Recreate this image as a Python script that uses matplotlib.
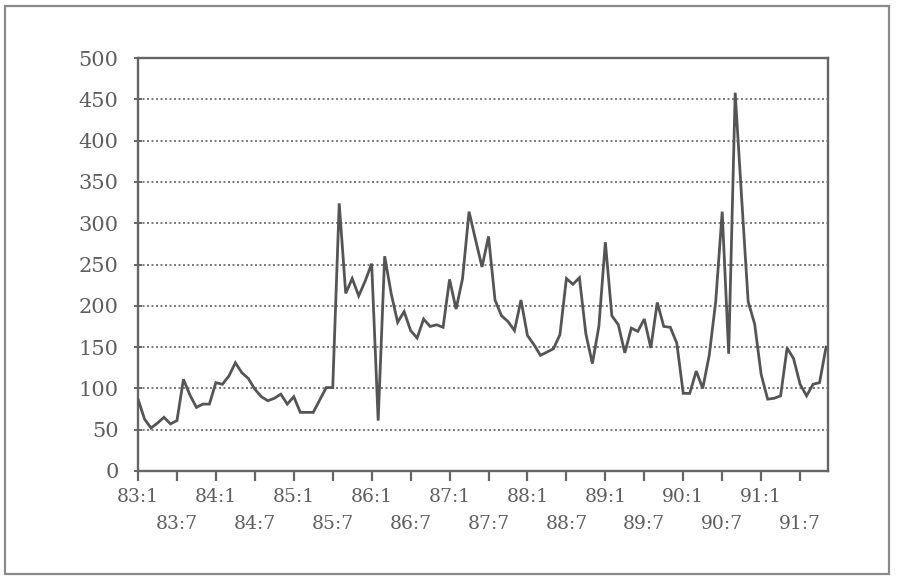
import matplotlib
matplotlib.use("Agg")
import matplotlib.pyplot as plt
from matplotlib.patches import Rectangle
import numpy as np

# Monthly series, 83:1 through 91:11
values = [
    87, 63, 52, 58, 65, 57, 61, 111, 92, 77, 81, 81,
    107, 105, 115, 131, 119, 112, 99, 90, 85, 88, 93, 81,
    90, 71, 71, 71, 86, 101, 101, 324, 215, 233, 212, 230,
    251, 61, 260, 215, 180, 193, 170, 161, 184, 175, 177, 174,
    232, 196, 233, 314, 280, 247, 284, 207, 188, 181, 170, 207,
    164, 153, 140, 144, 148, 165, 233, 226, 234, 166, 130, 175,
    277, 188, 177, 143, 173, 169, 184, 149, 204, 175, 174, 155,
    94, 94, 121, 100, 140, 205, 314, 142, 458, 330, 205, 178,
    117, 87, 88, 91, 149, 136, 105, 91, 105, 107, 150,
]
tick_labels = ["83:1", "83:7", "84:1", "84:7", "85:1", "85:7", "86:1", "86:7",
               "87:1", "87:7", "88:1", "88:7", "89:1", "89:7", "90:1", "90:7",
               "91:1", "91:7"]
y_ticks = [0, 50, 100, 150, 200, 250, 300, 350, 400, 450, 500]

W, H = 897, 580
fig = plt.figure(figsize=(W / 100, H / 100), dpi=100)
fig.patch.set_facecolor("white")

# outer frame around the whole chart
fig.patches.append(Rectangle((5 / W, 6 / H), (889 - 5) / W, (574 - 6) / H,
                             transform=fig.transFigure, fill=False,
                             edgecolor="#8a8a8a", linewidth=1.6))

ax = fig.add_axes([138 / W, (H - 471) / H, (828 - 138) / W, (471 - 58) / H])
x = np.arange(len(values))
ax.plot(x, values, color="#555555", linewidth=2.0, solid_joinstyle="miter", zorder=3)

ax.set_xlim(0, 106.3)
ax.set_ylim(0, 500)

# horizontal dotted grid
for v in y_ticks[1:-1]:
    ax.axhline(v, color="#666666", linewidth=1.2, linestyle=(0, (1.2, 1.5)), zorder=1)

ax.set_yticks(y_ticks)
ax.set_yticklabels([str(v) for v in y_ticks])
xt = list(range(0, 6 * len(tick_labels), 6))
ax.set_xticks(xt)
ax.set_xticklabels([lab if i % 2 == 0 else "\n" + lab for i, lab in enumerate(tick_labels)],
                   linespacing=1.65)

serif = ["DejaVu Serif"]
for lab in ax.get_yticklabels():
    lab.set_fontfamily(serif)
    lab.set_fontsize(15)
    lab.set_color("#5e5e5e")
for lab in ax.get_xticklabels():
    lab.set_fontfamily(serif)
    lab.set_fontsize(13.5)
    lab.set_color("#5e5e5e")

ax.tick_params(axis="x", direction="out", length=7, width=1.6, color="#666666", pad=5)
ax.tick_params(axis="y", direction="inout", length=6, width=1.4, color="#666666", pad=11)

for side in ["left", "bottom", "right", "top"]:
    ax.spines[side].set_color("#666666")
    ax.spines[side].set_linewidth(1.7)

fig.savefig("out.png", dpi=100, facecolor="white")
